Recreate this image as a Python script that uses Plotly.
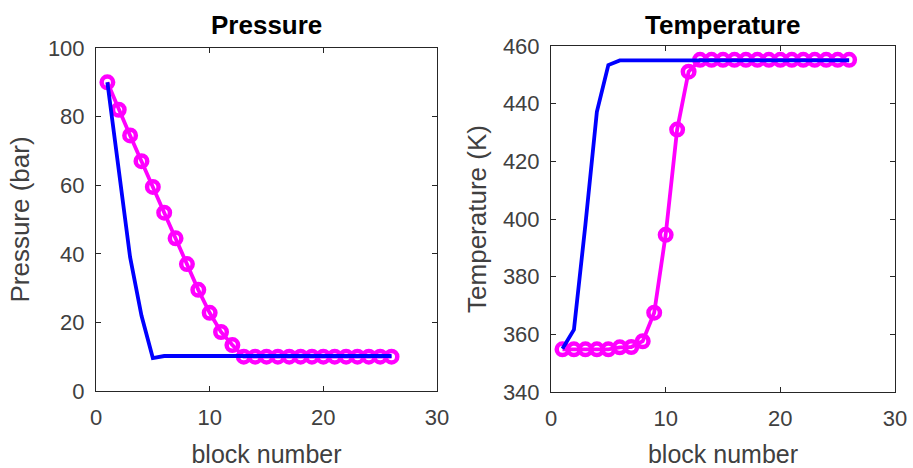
import plotly.graph_objects as go

blocks = list(range(1, 27))

# Pressure (bar)
p_blue = [90, 64, 39, 22, 9.6, 10.2] + [10.2] * 20
p_magenta = [90, 82, 74.5, 67, 59.5, 52, 44.5, 37, 29.5, 22.8, 17.2, 13.4] + [10] * 14

# Temperature (K)
t_blue = [355, 361.6, 398, 437.2, 453.4, 455.0] + [455.0] * 20
t_magenta = [354.8, 354.8, 354.8, 354.8, 354.8, 355.5, 355.6, 357.6, 367.5, 394.5, 431, 451.1] + [455.2] * 14

x_ticks = [0, 10, 20, 30]
p_ticks = [0, 20, 40, 60, 80, 100]
t_ticks = [340, 360, 380, 400, 420, 440, 460]

BLUE = "#0000FF"
MAG = "#FF00FF"
AX = "#262626"
TXT = "#404040"
FONT = "Liberation Sans, Arial, sans-serif"

fig = go.Figure()

def add_pair(xa, ya, yb, ym):
    fig.add_trace(go.Scatter(x=blocks, y=ym, xaxis=xa, yaxis=ya, mode="lines+markers",
                             line=dict(color=MAG, width=3.8),
                             marker=dict(symbol="circle-open", size=11.5, color=MAG, line=dict(width=4.5, color=MAG)),
                             showlegend=False, hoverinfo="skip"))
    fig.add_trace(go.Scatter(x=blocks, y=yb, xaxis=xa, yaxis=ya, mode="lines",
                             line=dict(color=BLUE, width=3.8),
                             showlegend=False, hoverinfo="skip"))

add_pair("x", "y", p_blue, p_magenta)
add_pair("x2", "y2", t_blue, t_magenta)

axis_common = dict(showline=True, linecolor=AX, linewidth=1, mirror="ticks",
                   ticks="inside", ticklen=5, tickcolor=AX, tickwidth=1,
                   showgrid=False, zeroline=False, automargin=False,
                   tickfont=dict(family=FONT, size=22, color=TXT))

fig.update_layout(
    width=913, height=468,
    margin=dict(l=0, r=0, t=0, b=0),
    paper_bgcolor="white", plot_bgcolor="white",
    font=dict(family=FONT, color=AX),
    xaxis=dict(domain=[96/913, 437/913], range=[0, 30], tickvals=x_ticks, anchor="y",
               title=dict(text="block number", font=dict(family=FONT, size=25, color=TXT), standoff=18),
               ticklabelstandoff=7, **axis_common),
    yaxis=dict(domain=[(468-391)/468, (468-48)/468], range=[0, 100], tickvals=p_ticks, anchor="x",
               title=dict(text="Pressure (bar)", font=dict(family=FONT, size=26, color=TXT), standoff=10),
               ticklabelstandoff=6, **axis_common),
    xaxis2=dict(domain=[551/913, 895/913], range=[0, 30], tickvals=x_ticks, anchor="y2",
                title=dict(text="block number", font=dict(family=FONT, size=25, color=TXT), standoff=18),
                ticklabelstandoff=7, **axis_common),
    yaxis2=dict(domain=[(468-392)/468, (468-46)/468], range=[340, 460], tickvals=t_ticks, anchor="x2",
                title=dict(text="Temperature (K)", font=dict(family=FONT, size=26, color=TXT), standoff=8),
                ticklabelstandoff=6, **axis_common),
    annotations=[
        dict(text="<b>Pressure</b>", x=266.5/913, y=1 - 25/468, xref="paper", yref="paper",
             showarrow=False, xanchor="center", yanchor="middle",
             font=dict(family=FONT, size=26, color="black")),
        dict(text="<b>Temperature</b>", x=723/913, y=1 - 25/468, xref="paper", yref="paper",
             showarrow=False, xanchor="center", yanchor="middle",
             font=dict(family=FONT, size=26, color="black")),
    ],
)

fig.write_html("out.html")
